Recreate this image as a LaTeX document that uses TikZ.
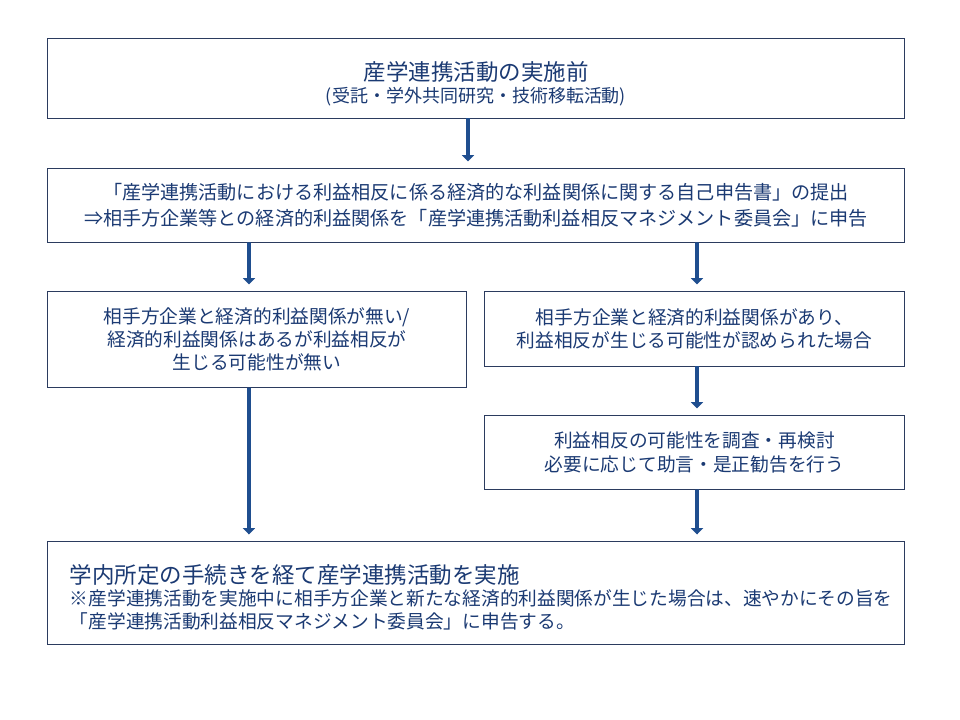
\documentclass[tikz,border=0pt]{standalone}
\usepackage{fontspec}
\setmainfont{Noto Sans CJK JP}
\usepackage{tikz}
\usetikzlibrary{arrows.meta}

\definecolor{textnavy}{HTML}{1B3A73}
\definecolor{boxline}{HTML}{2B3B5E}
\definecolor{flowblue}{HTML}{1F4E8F}

\newcommand{\bodyfont}{\fontsize{13.3pt}{16.5pt}\selectfont}
\newcommand{\headfont}{\fontsize{16pt}{19pt}\selectfont}

\begin{document}
\begin{tikzpicture}[
            x = 0.025cm, y = -0.025cm, % one unit = one pixel
            > = {Triangle[width=0.3cm, length=0.16cm]}, % arrow head style
            semithick % line style
        ]

        \tikzstyle{box}=[
            draw = boxline,
            line width = 0.7pt,
            fill = white,
            text = textnavy,
            align = center,
            inner sep = 0pt,
            font = \bodyfont
        ]
        \tikzstyle{flow}=[
            ->,
            draw = flowblue,
            line width = 2.6pt,
            shorten > = 0.175cm % stop short of the box
        ]

        \useasboundingbox (0,0) rectangle (960,720);

        \node[box, minimum width=21.4cm, minimum height=1.975cm] (before) at (476,78.5)
            {{\headfont\rule{0pt}{21pt}産学連携活動の実施前}\\[-1pt]{\fontsize{12.8pt}{15pt}\selectfont (受託・学外共同研究・技術移転活動)}};
        \node[box, minimum width=21.4cm, minimum height=1.825cm, font=\fontsize{13.6pt}{18.5pt}\selectfont] (report) at (476,205.5)
            {「産学連携活動における利益相反に係る経済的な利益関係に関する自己申告書」の提出\\
             ⇒相手方企業等との経済的利益関係を「産学連携活動利益相反マネジメント委員会」に申告};
        \node[box, minimum width=10.45cm, minimum height=2.375cm] (nocoi) at (257,339.5)
            {相手方企業と経済的利益関係が無い/\\経済的利益関係はあるが利益相反が\\生じる可能性が無い};
        \node[box, minimum width=10.475cm, minimum height=1.85cm] (coi) at (694.5,329)
            {相手方企業と経済的利益関係があり、\\利益相反が生じる可能性が認められた場合};
        \node[box, minimum width=10.475cm, minimum height=1.825cm] (review) at (694.5,452.5)
            {利益相反の可能性を調査・再検討\\必要に応じて助言・是正勧告を行う};
        \node[box, minimum width=21.4cm, minimum height=2.55cm, align=left, text width=20.3cm] (carryout) at (476,593)
            {{\headfont\rule{0pt}{20pt}学内所定の手続きを経て産学連携活動を実施}\\[-1pt]
             ※産学連携活動を実施中に相手方企業と新たな経済的利益関係が生じた場合は、速やかにその旨を\\
             「産学連携活動利益相反マネジメント委員会」に申告する。};

        \draw[flow] ([xshift=-0.2cm]before.south) -- ([xshift=-0.2cm]report.north);
        \draw[flow] ([xshift=-5.675cm]report.south) -- ([xshift=-0.2cm]nocoi.north);
        \draw[flow] ([xshift=5.525cm]report.south) -- ([xshift=0.0625cm]coi.north);
        \draw[flow] ([xshift=0.0625cm]coi.south) -- ([xshift=0.0625cm]review.north);
        \draw[flow] ([xshift=-0.2cm]nocoi.south) -- ([xshift=-5.675cm]carryout.north);
        \draw[flow] ([xshift=0.0625cm]review.south) -- ([xshift=5.525cm]carryout.north);

  \end{tikzpicture}
\end{document}
